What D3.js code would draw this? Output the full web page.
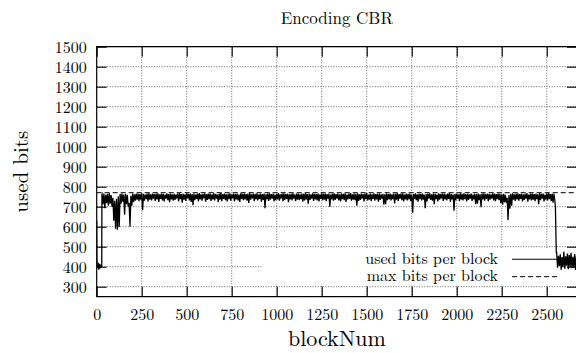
<!DOCTYPE html>
<html>
<head>
<meta charset="utf-8">
<script src="https://cdn.jsdelivr.net/npm/d3@7"></script>
<style>
  html, body { margin: 0; padding: 0; background: #fff; }
  svg { display: block; }
  text { font-family: "Latin Modern Roman", "CMU Serif", "Liberation Serif", serif; fill: #000; }
</style>
</head>
<body>
<svg id="chart" width="576" height="353"></svg>
<script>
// ---------------- data ----------------
const titleText = "Encoding CBR";
const xLabel = "blockNum";
const yLabel = "used bits";
const legendLabels = ["used bits per block", "max bits per block"];
const xTicks = [0, 250, 500, 750, 1000, 1250, 1500, 1750, 2000, 2250, 2500];
const yTicks = [300, 400, 500, 600, 700, 800, 900, 1000, 1100, 1200, 1300, 1400, 1500];
const xDomain = [0, 2668];
const yDomain = [250, 1500];
const maxBits = 770;

// first blocks (warm-up)
const startBlocks = [0, 1, 3, 5, 8, 11, 14, 17, 20, 23, 26, 28, 29];
const startBits   = [630, 440, 410, 395, 420, 385, 415, 390, 410, 395, 405, 400, 760];

// steady band: per 10-block bin, upper and lower extent (bins start at block 30)
const bandStart = 30;
const bandBin = 10;
const bandHigh = [
  762,766,760,765,767,758,745,730,740,752,
  764,766,761,765,760,720,755,766,762,765,
  766,763,767,764,761,766,768,762,765,763,
  765,767,762,766,764,760,767,763,766,762,
  764,761,766,768,763,765,762,767,764,766,
  763,766,761,765,768,762,764,767,763,765,
  766,762,767,764,761,765,768,763,766,762,
  764,767,762,766,763,765,761,767,764,766,
  763,765,768,762,766,764,767,761,765,763,
  766,762,765,767,763,766,761,764,768,762,
  765,767,763,766,762,764,767,761,765,766,
  762,766,764,768,763,765,761,767,764,763,
  766,762,767,764,765,763,766,761,765,767,
  763,765,762,766,764,767,761,765,768,762,
  766,764,767,762,765,763,766,768,761,765,
  762,767,763,765,766,761,764,762,767,763,
  765,762,766,764,768,763,765,767,761,766,
  764,766,760,763,767,762,765,764,766,760,
  763,765,767,762,766,764,761,767,763,765,
  766,762,765,768,763,761,764,766,762,767,
  764,767,763,765,762,766,761,764,763,766,
  762,765,767,763,766,764,761,767,765,763,
  766,764,762,765,760,745,758,764,767,762,
  765,767,763,766,762,764,768,761,765,766,
  763,765,762,767,764,766,761,765,768,763,
  766,764
];
const bandLow = [
  712,692,718,705,715,700,630,590,585,598,
  715,725,660,712,700,600,705,722,730,735,
  728,735,683,730,738,726,735,731,740,729,
  736,724,739,731,727,740,733,722,737,730,
  734,741,726,738,720,735,729,741,732,724,
  708,733,739,727,736,730,742,725,734,738,
  729,737,731,740,723,735,728,739,733,726,
  738,730,742,727,736,731,724,739,733,737,
  730,719,735,741,728,736,732,739,725,734,
  692,738,729,735,740,726,733,737,730,741,
  727,734,739,722,736,731,740,728,735,733,
  738,725,731,737,715,734,740,729,736,732,
  726,739,733,735,728,741,700,737,730,734,
  740,731,727,738,733,724,736,739,730,735,
  733,705,729,734,741,726,738,732,735,728,
  739,730,736,725,734,740,710,712,733,737,
  731,738,716,735,729,740,733,726,737,732,
  736,728,670,739,733,725,738,731,735,693,
  727,740,734,730,712,738,726,735,741,729,
  737,732,739,725,736,680,733,740,728,735,
  731,738,726,734,740,729,737,712,715,733,
  698,736,730,739,727,735,741,732,728,738,
  733,718,710,722,720,633,690,705,735,729,
  736,730,739,727,734,740,725,737,731,735,
  728,738,712,733,740,726,735,731,738,729,
  720,730
];

// drop and low tail
const dropBlocks = [2548, 2553];
const dropBits = [700, 470];
const tailStart = 2555;
const tailBin = 10;
const tailHigh = [470,455,462,448,475,452,466,458,470,450,463,456];
const tailLow  = [395,402,385,398,390,405,388,400,392,396,384,401];

// ---------------- build series ----------------
const used = [];
startBlocks.forEach((b, i) => used.push([b, startBits[i]]));
bandHigh.forEach((h, i) => {
  const b = bandStart + i * bandBin;
  used.push([b, h]);
  used.push([b + bandBin / 2, bandLow[i]]);
});
dropBlocks.forEach((b, i) => used.push([b, dropBits[i]]));
tailHigh.forEach((h, i) => {
  const b = tailStart + i * tailBin;
  used.push([b, h]);
  used.push([b + tailBin / 2, tailLow[i]]);
});

// ---------------- layout ----------------
const svg = d3.select("#chart");
const L = 96.7, R = 577, T = 46.7, B = 296.7;
const x = d3.scaleLinear().domain(xDomain).range([L, R]);
const y = d3.scaleLinear().domain(yDomain).range([B, T]);
const tickLen = 10;

svg.append("defs").append("clipPath").attr("id", "plotclip")
  .append("rect").attr("x", L).attr("y", T).attr("width", R - L).attr("height", B - T);

// grid
const grid = svg.append("g").attr("stroke", "#666").attr("stroke-width", 1)
  .attr("stroke-dasharray", "1,1.6").attr("fill", "none");
yTicks.forEach(v => {
  grid.append("line").attr("x1", L).attr("x2", R).attr("y1", y(v)).attr("y2", y(v));
});
xTicks.filter(v => v > 0).forEach(v => {
  grid.append("line").attr("x1", x(v)).attr("x2", x(v)).attr("y1", T).attr("y2", B);
});

// opaque key area (hides grid)
svg.append("rect").attr("x", 263).attr("y", 249).attr("width", 299).attr("height", 35).attr("fill", "#fff");

// axes (ticks inward on all sides)
const axL = d3.axisLeft(y).tickValues(yTicks).tickSize(-tickLen).tickFormat(d3.format("d"));
const axR = d3.axisRight(y).tickValues(yTicks).tickSize(-tickLen).tickFormat("");
const axB = d3.axisBottom(x).tickValues(xTicks).tickSize(-tickLen).tickFormat(d3.format("d"));
const axT = d3.axisTop(x).tickValues(xTicks).tickSize(-tickLen).tickFormat("");

function styleAxis(g) {
  g.select(".domain").remove();
  g.selectAll(".tick line").attr("stroke", "#000").attr("stroke-width", 1.1);
  g.selectAll(".tick text").attr("font-size", 16).attr("fill", "#000")
    .attr("font-family", "'Latin Modern Roman','CMU Serif','Liberation Serif',serif");
}
svg.append("g").attr("transform", `translate(${L},0)`).call(axL).call(styleAxis)
  .selectAll(".tick text").attr("dy", "0.36em").attr("x", -10);
svg.append("g").attr("transform", `translate(${R},0)`).call(axR).call(styleAxis);
svg.append("g").attr("transform", `translate(0,${B})`).call(axB).call(styleAxis)
  .selectAll(".tick text").attr("dy", 0).attr("y", 23.5);
svg.append("g").attr("transform", `translate(0,${T})`).call(axT).call(styleAxis);

// data
const plot = svg.append("g").attr("clip-path", "url(#plotclip)");
plot.append("line")
  .attr("x1", x(xDomain[0])).attr("x2", x(xDomain[1]))
  .attr("y1", y(maxBits)).attr("y2", y(maxBits))
  .attr("stroke", "#000").attr("stroke-width", 1).attr("stroke-dasharray", "5,3");
const line = d3.line().x(d => x(d[0])).y(d => y(d[1]));
plot.append("path").datum(used).attr("d", line)
  .attr("fill", "none").attr("stroke", "#000").attr("stroke-width", 1.3).attr("stroke-linejoin", "miter");

// border
svg.append("path")
  .attr("d", `M${R},${T}H${L}V${B}H${R}V${T}`)
  .attr("fill", "none").attr("stroke", "#000").attr("stroke-width", 1.2);

// legend
const lg = svg.append("g");
lg.append("text").attr("x", 498).attr("y", 263.5).attr("text-anchor", "end").attr("font-size", 16).text(legendLabels[0]);
lg.append("text").attr("x", 498).attr("y", 281).attr("text-anchor", "end").attr("font-size", 16).text(legendLabels[1]);
lg.append("line").attr("x1", 512).attr("x2", 557).attr("y1", 259.3).attr("y2", 259.3)
  .attr("stroke", "#000").attr("stroke-width", 1.1);
lg.append("line").attr("x1", 512).attr("x2", 560).attr("y1", 276.7).attr("y2", 276.7)
  .attr("stroke", "#000").attr("stroke-width", 1).attr("stroke-dasharray", "5,3");

// titles
svg.append("text").attr("x", (L + R) / 2).attr("y", 24).attr("text-anchor", "middle")
  .attr("font-size", 17).text(titleText);
svg.append("text").attr("x", (L + R) / 2).attr("y", 346).attr("text-anchor", "middle")
  .attr("font-size", 22).text(xLabel);
svg.append("text").attr("transform", `translate(28,${(T + B) / 2}) rotate(-90)`)
  .attr("text-anchor", "middle").attr("font-size", 21).text(yLabel);
</script>
</body>
</html>
